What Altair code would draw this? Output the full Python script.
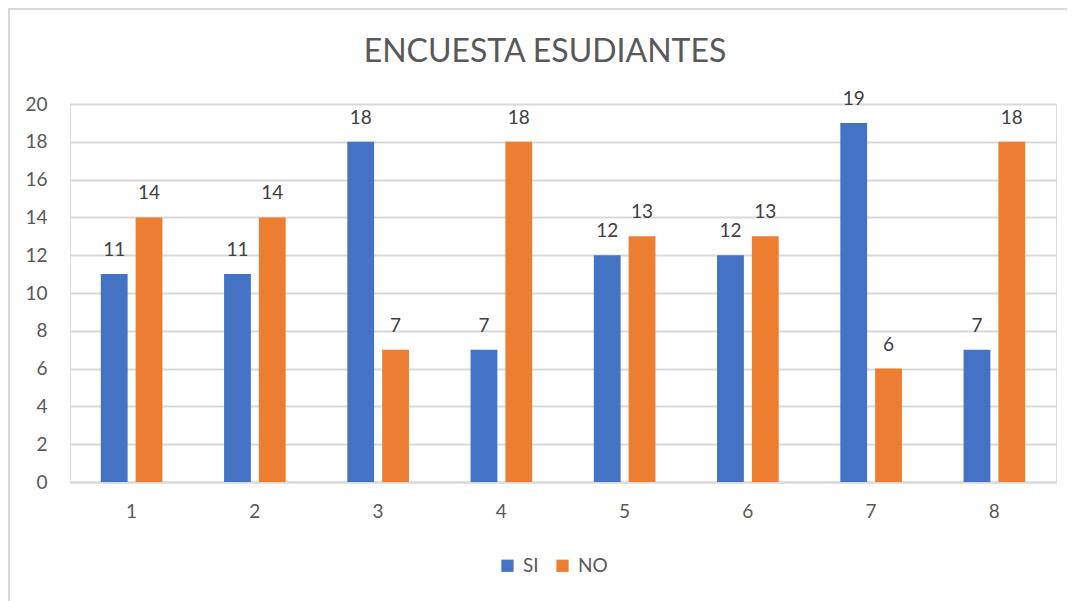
import altair as alt
import pandas as pd

titulo = "ENCUESTA ESUDIANTES"
categorias = ["1", "2", "3", "4", "5", "6", "7", "8"]
si = [11, 11, 18, 7, 12, 12, 19, 7]
no = [14, 14, 7, 18, 13, 13, 6, 18]
series = ["SI", "NO"]
colores = ["#4472C4", "#ED7D31"]
y_ticks = list(range(0, 21, 2))

rows = []
for c, a, b in zip(categorias, si, no):
    rows.append({"pregunta": c, "serie": "SI", "valor": a})
    rows.append({"pregunta": c, "serie": "NO", "valor": b})
df = pd.DataFrame(rows)

FONT = "Lato"
TXT = "#595959"
GRID = "#D9D9D9"

x_enc = alt.X(
    "pregunta:N",
    sort=categorias,
    scale=alt.Scale(paddingInner=0.5, paddingOuter=0.25),
    axis=alt.Axis(title=None, labelAngle=0, ticks=False, domainColor=GRID, domainWidth=2,
                  labelFontSize=19, labelColor=TXT, labelPadding=20, labelFont=FONT),
)
xo_enc = alt.XOffset("serie:N", sort=series,
                     scale=alt.Scale(domain=series, paddingInner=0.23, paddingOuter=0))
y_enc = alt.Y(
    "valor:Q",
    scale=alt.Scale(domain=[0, 20]),
    axis=alt.Axis(title=None, values=y_ticks, ticks=False, domain=False,
                  gridColor=GRID, gridWidth=1.8, labelFontSize=19, labelColor=TXT,
                  labelPadding=23, labelFont=FONT),
)

base = alt.Chart(df)

bars = base.mark_bar().encode(
    x=x_enc, xOffset=xo_enc, y=y_enc,
    color=alt.Color("serie:N", sort=series,
                    scale=alt.Scale(domain=series, range=colores),
                    legend=alt.Legend(title=None, orient="none", direction="horizontal",
                                      legendX=428, legendY=452, symbolType="square",
                                      symbolSize=150, symbolStrokeWidth=0,
                                      labelFontSize=19, labelColor=TXT, labelFont=FONT,
                                      columnPadding=14, labelOffset=6)),
)

labels = base.mark_text(font=FONT, fontSize=19, color="#404040", baseline="alphabetic",
                        dy=-18).encode(
    x=x_enc, xOffset=xo_enc, y=y_enc, text=alt.Text("valor:Q"),
)

frame_df = pd.DataFrame({"k": [0]})
title_mark = alt.Chart(frame_df).mark_text(
    font=FONT, fontSize=32, color=TXT, baseline="alphabetic", align="center"
).encode(x=alt.value(475), y=alt.value(-42), text=alt.value(titulo))

left_line = alt.Chart(frame_df).mark_rule(color=GRID, strokeWidth=2).encode(
    x=alt.value(-61), y=alt.value(-96), y2=alt.value(540))
top_line = alt.Chart(frame_df).mark_rule(color=GRID, strokeWidth=2).encode(
    x=alt.value(-62), x2=alt.value(1020), y=alt.value(-95))

chart = alt.layer(bars, labels, title_mark, left_line, top_line).properties(
    width=986, height=378,
    autosize=alt.AutoSizeParams(type="none"),
    padding={"left": 62, "top": 96, "right": 11, "bottom": 130},
).configure_view(stroke=None).configure(background="white")

chart.save("out.html", embed_options={"renderer": "svg", "actions": False})
